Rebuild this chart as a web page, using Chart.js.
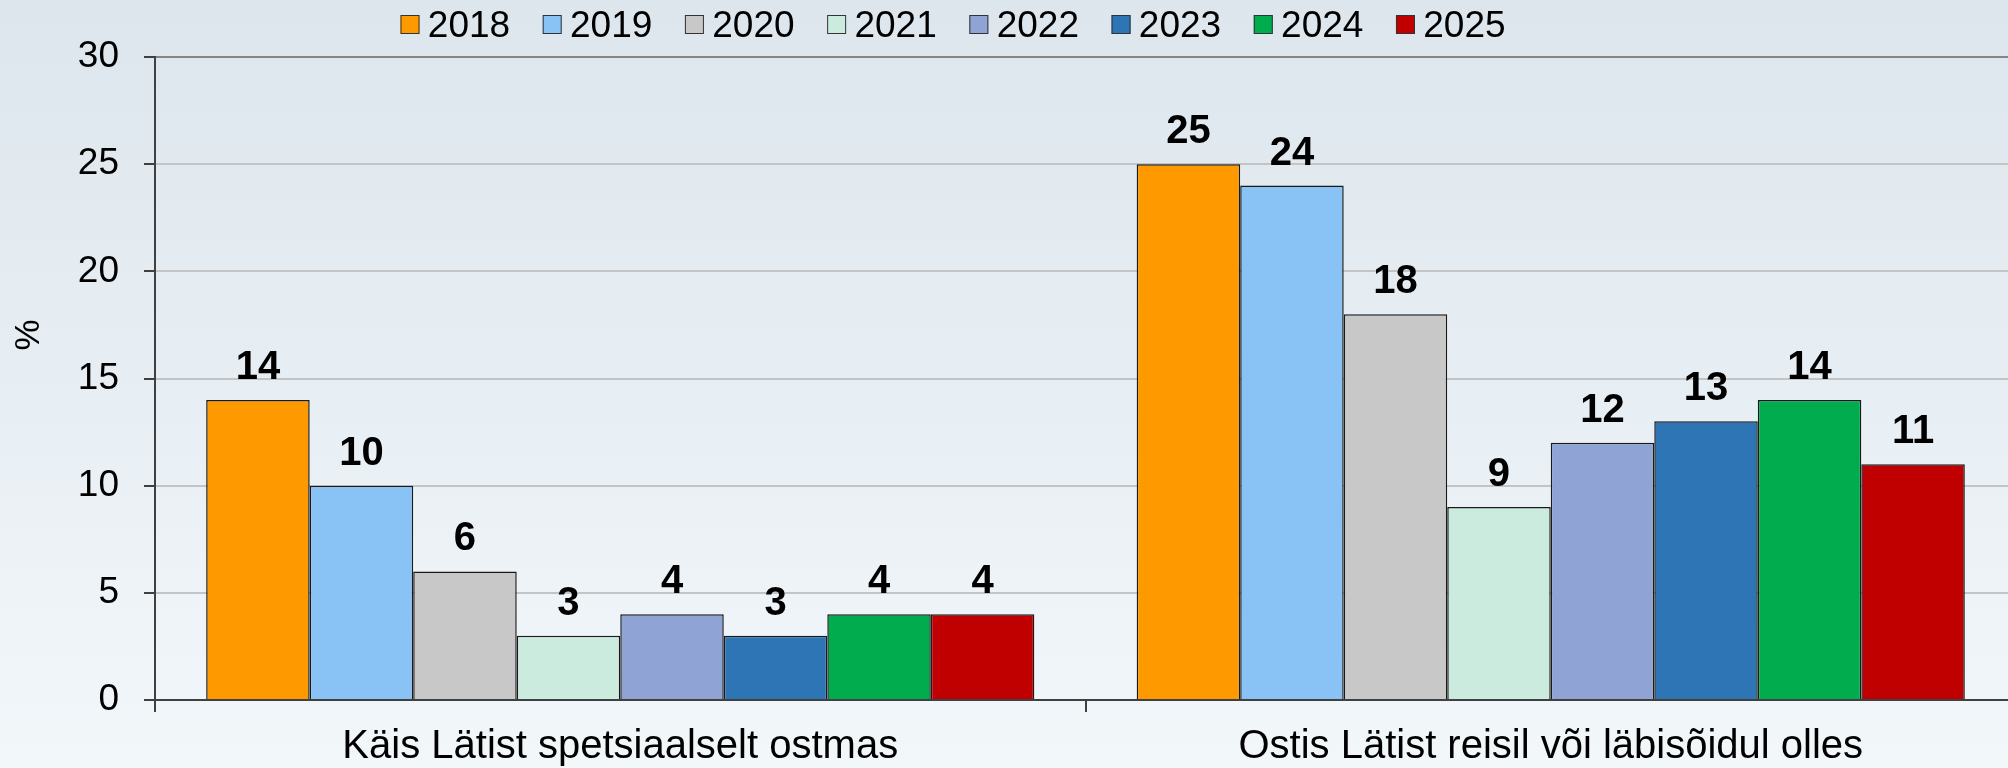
<!DOCTYPE html>
<html>
<head>
<meta charset="utf-8">
<script src="https://cdn.jsdelivr.net/npm/chart.js@4/dist/chart.umd.min.js"></script>
<style>
  html, body { margin: 0; padding: 0; background: #e8eff4; overflow: hidden; }
  canvas { display: block; }
</style>
</head>
<body>
<!-- plot runs a few px past the right edge in the original, so the canvas is a bit wider than the window -->
<canvas id="myChart" width="2016" height="768"></canvas>
<script>
const categories = ["Käis Lätist spetsiaalselt ostmas", "Ostis Lätist reisil või läbisõidul olles"];
const years = ["2018", "2019", "2020", "2021", "2022", "2023", "2024", "2025"];
const shopping = [14, 10, 6, 3, 4, 3, 4, 4];
const travel = [25, 24, 18, 9, 12, 13, 14, 11];
const yTicks = [0, 5, 10, 15, 20, 25, 30];
const colors = ["#ff9900", "#89c2f4", "#c8c8c8", "#ccebdf", "#8fa3d4", "#2e75b6", "#00ac4e", "#c00000"];

const font = "'Liberation Sans', Arial, sans-serif";

const datasets = years.map((year, i) => ({
  label: year,
  data: [shopping[i], travel[i]],
  backgroundColor: colors[i],
  borderColor: "#1a1a1a",
  borderWidth: 1.5,
  categoryPercentage: 0.89,
  barPercentage: 1,
}));

// gradient background behind everything
const background = {
  id: "background",
  beforeDraw(chart) {
    const ctx = chart.ctx;
    const g = ctx.createLinearGradient(0, 0, 0, chart.height);
    g.addColorStop(0, "#dde6ed");
    g.addColorStop(1, "#f2f7fa");
    ctx.save();
    ctx.fillStyle = g;
    ctx.fillRect(0, 0, chart.width, chart.height);
    ctx.restore();
  },
};

// value above each bar
const barLabels = {
  id: "barLabels",
  afterDatasetsDraw(chart) {
    const ctx = chart.ctx;
    ctx.save();
    ctx.font = "bold 40px " + font;
    ctx.fillStyle = "#000";
    ctx.textAlign = "center";
    ctx.textBaseline = "alphabetic";
    chart.data.datasets.forEach((ds, i) => {
      chart.getDatasetMeta(i).data.forEach((bar, j) => {
        ctx.fillText(ds.data[j], bar.x, bar.y - 21);
      });
    });
    ctx.restore();
  },
};

// legend row at the top and the "%" axis title
const extras = {
  id: "extras",
  afterDraw(chart) {
    const ctx = chart.ctx;
    ctx.save();
    ctx.font = "37px " + font;
    ctx.textBaseline = "alphabetic";
    ctx.textAlign = "left";
    let x = 400.5;
    chart.data.datasets.forEach((ds) => {
      ctx.fillStyle = ds.backgroundColor;
      ctx.fillRect(x, 15, 19, 19);
      ctx.strokeStyle = "#333";
      ctx.lineWidth = 1;
      ctx.strokeRect(x + 0.5, 15.5, 18, 18);
      ctx.fillStyle = "#000";
      ctx.fillText(ds.label, x + 27.3, 37);
      x += 27.3 + ctx.measureText(ds.label).width + 32.6;
    });

    ctx.translate(29, 335);
    ctx.rotate(-Math.PI / 2);
    ctx.font = "35px " + font;
    ctx.textAlign = "center";
    ctx.textBaseline = "middle";
    ctx.fillText("%", 0, 0);
    ctx.restore();
  },
};

const ctx = document.getElementById("myChart").getContext("2d");
const chart = new Chart(ctx, {
  type: "bar",
  data: { labels: categories, datasets: datasets },
  options: {
    responsive: false,
    animation: false,
    devicePixelRatio: 1,
    layout: { padding: { top: 57, right: 0, left: 0, bottom: 0 } },
    plugins: {
      legend: { display: false },
      tooltip: { enabled: false },
    },
    scales: {
      x: {
        grid: {
          offset: true,
          drawOnChartArea: false,
          tickLength: 12,
          tickColor: "#404040",
          lineWidth: 2,
        },
        border: { color: "#404040", width: 2 },
        ticks: { font: { family: font, size: 40 }, color: "#000", padding: 11 },
        afterFit: (s) => { s.height = 68; },
      },
      y: {
        min: 0,
        max: 30,
        afterBuildTicks: (s) => { s.ticks = yTicks.map((v) => ({ value: v })); },
        grid: {
          color: (c) => (c.tick && c.tick.value === 30 ? "#858585" : "#c4c4c4"),
          lineWidth: 2,
          tickLength: 11,
          tickColor: "#404040",
        },
        border: { color: "#404040", width: 2 },
        ticks: { font: { family: font, size: 37 }, color: "#000", padding: 25 },
        afterFit: (s) => { s.width = 155; },
      },
    },
  },
  plugins: [background, barLabels, extras],
});
</script>
</body>
</html>
